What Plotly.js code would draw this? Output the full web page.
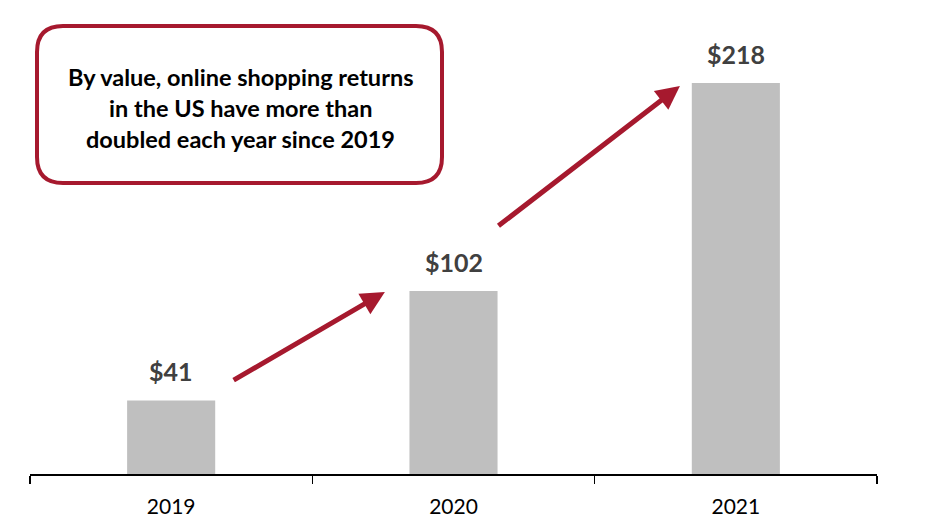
<!DOCTYPE html>
<html>
<head>
<meta charset="utf-8">
<script src="https://cdn.plot.ly/plotly-3.0.1.min.js"></script>
<style>html,body{margin:0;padding:0;background:#fff;}#chart{width:926px;height:529px;}</style>
</head>
<body>
<div id="chart"></div>
<script>
const years = ["2019", "2020", "2021"];
const values = [41, 102, 218];
const valueLabels = ["$41", "$102", "$218"];
const calloutLines = [
  "By value, online shopping returns",
  "in the US have more than",
  "doubled each year since 2019"
];

const FONT = "Lato, 'Open Sans', sans-serif";
const RED = "#A6192E";

const trace = {
  type: "bar",
  x: years,
  y: values,
  marker: {color: "#BFBFBF"},
  hoverinfo: "skip"
};

// category axis: annotation x given as category serial number
const annotations = years.map((yr, i) => ({
  x: i, y: values[i], xref: "x", yref: "y",
  text: "<b>" + valueLabels[i] + "</b>",
  showarrow: false, yanchor: "bottom", yshift: 12,
  font: {family: FONT, size: 25, color: "#404040"}
}));

// arrows (category index units on x)
const arrows = [
  {tail: [0.216, 51.8], head: [0.757, 101.4]},
  {tail: [1.154, 137.7], head: [1.802, 216.3]}
];
arrows.forEach(a => annotations.push({
  x: a.head[0], y: a.head[1], ax: a.tail[0], ay: a.tail[1],
  xref: "x", yref: "y", axref: "x", ayref: "y",
  text: "", showarrow: true, arrowhead: 2, arrowsize: 0.95,
  arrowwidth: 5, arrowcolor: RED, standoff: 0
}));

const lineY = [77, 108, 139];
calloutLines.forEach((t, i) => annotations.push({
  x: (240 - 30) / 847, y: (474 - lineY[i]) / 444, xref: "paper", yref: "paper",
  text: "<b>" + t + "</b>", showarrow: false,
  xanchor: "center", yanchor: "middle",
  font: {family: FONT, size: 23.5, color: "#000000"}
}));

// rounded callout box in paper coords
const x0 = (37 - 30) / 847, x1 = (442 - 30) / 847;
const y1 = (474 - 26) / 444, y0 = (474 - 183) / 444;
const rx = 26 / 847, ry = 26 / 444;
const path = `M ${x0 + rx},${y1} L ${x1 - rx},${y1} Q ${x1},${y1} ${x1},${y1 - ry} ` +
  `L ${x1},${y0 + ry} Q ${x1},${y0} ${x1 - rx},${y0} L ${x0 + rx},${y0} ` +
  `Q ${x0},${y0} ${x0},${y0 + ry} L ${x0},${y1 - ry} Q ${x0},${y1} ${x0 + rx},${y1} Z`;

const layout = {
  width: 926, height: 529,
  margin: {l: 30, r: 49, t: 30, b: 55},
  paper_bgcolor: "#ffffff", plot_bgcolor: "#ffffff",
  bargap: 0.688,
  showlegend: false,
  xaxis: {
    type: "category", range: [-0.5, 2.5], autorange: false,
    showline: true, linecolor: "#000000", linewidth: 1.5,
    ticks: "outside", tickson: "boundaries", ticklen: 8, tickcolor: "#000000", tickwidth: 1.5,
    tickfont: {family: FONT, size: 21, color: "#000000"},
    ticklabelstandoff: 13,
    tickangle: 0,
    showgrid: false, zeroline: false
  },
  yaxis: {
    range: [0, 247.5], autorange: false, visible: false, showgrid: false, zeroline: false
  },
  shapes: [{
    type: "path", xref: "paper", yref: "paper", path: path,
    line: {color: RED, width: 4}, fillcolor: "rgba(0,0,0,0)", layer: "above"
  }],
  annotations: annotations
};

Plotly.newPlot("chart", [trace], layout, {displayModeBar: false, staticPlot: true});
</script>
</body>
</html>
